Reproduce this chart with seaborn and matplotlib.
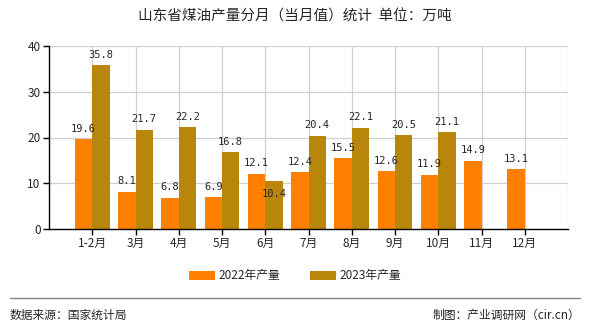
import matplotlib
matplotlib.use("Agg")
import matplotlib.pyplot as plt
import seaborn as sns
import pandas as pd
import numpy as np

categories = ["1-2月", "3月", "4月", "5月", "6月", "7月", "8月", "9月", "10月", "11月", "12月"]
values_2022 = [19.6, 8.1, 6.8, 6.9, 12.1, 12.4, 15.5, 12.6, 11.9, 14.9, 13.1]
values_2023 = [35.8, 21.7, 22.2, 16.8, 10.4, 20.4, 22.1, 20.5, 21.1, np.nan, np.nan]
series = ["2022年产量", "2023年产量"]
colors = ["#FF8000", "#B8860B"]
yticks = [0, 10, 20, 30, 40]

sns.set_theme(style="white")
plt.rcParams['font.family'] = ['Noto Sans CJK SC', 'DejaVu Sans']

df = pd.DataFrame({
    "月份": categories * 2,
    "产量": values_2022 + values_2023,
    "系列": [series[0]] * len(categories) + [series[1]] * len(categories),
})

fig = plt.figure(figsize=(5.9, 3.3), dpi=100)
ax = fig.add_axes([49/590, 1 - 229/330, (568-49)/590, (229-46)/330])

sns.barplot(data=df, x="月份", y="产量", hue="系列", palette=colors,
            width=0.8, saturation=1, ax=ax, legend=True, linewidth=0,
            edgecolor="none")

ax.set_xlim(-1, len(categories))
ax.set_ylim(0, 40)
ax.set_yticks(yticks)
ax.set_yticklabels([str(v) for v in yticks], fontsize=8.5)
ax.set_xticks(range(len(categories)))
ax.set_xticklabels(categories, fontsize=8.5)
ax.set_xlabel("")
ax.set_ylabel("")

# gridlines
for v in range(-1, len(categories) + 1):
    ax.axvline(v, color="#d0d0d0", lw=0.9, zorder=0)
for v in yticks[1:]:
    ax.axhline(v, color="#d0d0d0", lw=0.9, zorder=0)
ax.set_axisbelow(True)

for s in ["top", "right"]:
    ax.spines[s].set_visible(False)
ax.spines["left"].set_color("black")
ax.spines["bottom"].set_color("black")
ax.spines["left"].set_linewidth(1)
ax.spines["bottom"].set_linewidth(1)
ax.tick_params(axis="both", which="both", length=4, width=1, color="black",
               direction="out", bottom=True, left=True, pad=2)

# value labels
c0, c1 = ax.containers[0], ax.containers[1]
lab0 = [f"{b.get_height():.1f}" if not np.isnan(b.get_height()) else "" for b in c0]
ax.bar_label(c0, labels=lab0, padding=4, fontsize=7.5, fontfamily="DejaVu Sans Mono")
for b, bo in zip(c1, c0):
    h = b.get_height()
    if np.isnan(h):
        continue
    ho = bo.get_height()
    # if the neighbouring label would collide, drop this one just under the bar top
    off = -9 if (h < ho and ho - h < 4) else 4
    ax.annotate(f"{h:.1f}", (b.get_x() + b.get_width() / 2, h),
                xytext=(0, off), textcoords="offset points",
                ha="center", va="bottom" if off > 0 else "center",
                fontsize=7.5, fontfamily="DejaVu Sans Mono")

# legend
handles, labs = ax.get_legend_handles_labels()
ax.get_legend().remove()
fig.legend(handles, labs, loc="center", bbox_to_anchor=(0.5, 1 - 276/330),
           ncol=2, frameon=False, fontsize=8.5, handlelength=2.2, handleheight=0.8,
           columnspacing=2.5, handletextpad=0.3)

fig.text(0.5, 1 - 17/330, "山东省煤油产量分月（当月值）统计  单位：万吨",
         ha="center", va="center", fontsize=10.5)

fig.add_artist(plt.Line2D([10/590, 580/590], [1 - 298/330, 1 - 298/330],
                          color="#888888", lw=1))
fig.text(10/590, 1 - 315/330, "数据来源：国家统计局", ha="left", va="center", fontsize=8.5)
fig.text(580/590, 1 - 315/330, "制图：产业调研网（cir.cn）", ha="right", va="center", fontsize=8.5)

fig.savefig("out.png", dpi=100)
